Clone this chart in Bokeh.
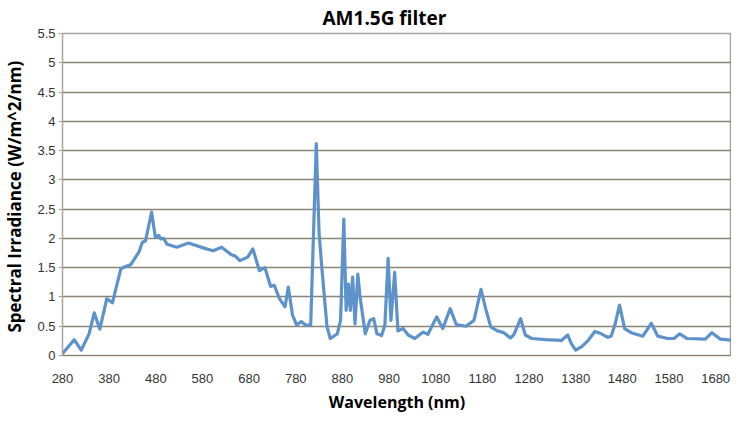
from bokeh.plotting import figure
from bokeh.models import FixedTicker, Range1d
from bokeh.embed import file_html
from bokeh.resources import INLINE

wavelength = [280, 283, 305, 320, 337, 348, 360, 375, 387, 405, 415, 426, 444, 451, 458, 471, 479,
              486, 491, 497, 504, 525, 550, 585, 603, 621, 642, 650, 660, 677, 688, 702, 714, 726,
              734, 745, 757, 764, 773, 782, 792, 801, 812, 824, 830, 837, 847, 854, 869, 876, 883,
              888, 893, 897, 902, 907, 913, 918, 929, 939, 947, 954, 964, 971, 978, 984, 992, 999,
              1010, 1021, 1035, 1053, 1063, 1082, 1095, 1111, 1124, 1145, 1162, 1177, 1187, 1198,
              1212, 1226, 1240, 1247, 1262, 1272, 1286, 1315, 1350, 1363, 1371, 1380, 1393, 1407,
              1421, 1435, 1449, 1456, 1464, 1474, 1485, 1499, 1524, 1542, 1556, 1577, 1591, 1603,
              1619, 1658, 1672, 1690, 1714]
irradiance = [0.03, 0.06, 0.27, 0.09, 0.37, 0.73, 0.45, 0.97, 0.90, 1.48, 1.52, 1.55, 1.77, 1.93, 1.96,
              2.45, 2.02, 2.05, 1.99, 2.00, 1.90, 1.85, 1.92, 1.83, 1.79, 1.85, 1.72, 1.70, 1.62, 1.68,
              1.82, 1.45, 1.50, 1.18, 1.20, 0.97, 0.83, 1.17, 0.69, 0.52, 0.58, 0.52, 0.52, 3.62, 2.08,
              1.40, 0.49, 0.29, 0.37, 0.60, 2.33, 0.77, 1.22, 0.77, 1.34, 0.54, 1.39, 0.99, 0.37, 0.60,
              0.63, 0.37, 0.34, 0.52, 1.66, 0.60, 1.42, 0.42, 0.46, 0.35, 0.29, 0.40, 0.36, 0.66, 0.46,
              0.80, 0.53, 0.50, 0.60, 1.13, 0.80, 0.49, 0.42, 0.39, 0.30, 0.35, 0.63, 0.35, 0.29, 0.27,
              0.26, 0.35, 0.20, 0.09, 0.15, 0.26, 0.41, 0.37, 0.31, 0.33, 0.52, 0.86, 0.46, 0.39, 0.33,
              0.55, 0.33, 0.29, 0.29, 0.37, 0.29, 0.28, 0.39, 0.28, 0.26]

x_ticks = [280, 380, 480, 580, 680, 780, 880, 980, 1080, 1180, 1280, 1380, 1480, 1580, 1680]
y_ticks = [0, 0.5, 1, 1.5, 2, 2.5, 3, 3.5, 4, 4.5, 5, 5.5]
y_tick_labels = ["0", "0.5", "1", "1.5", "2", "2.5", "3", "3.5", "4", "4.5", "5", "5.5"]

TICK_FONT = "Liberation Sans"
BOLD_FONT = "Open Sans"

p = figure(frame_width=669, frame_height=322, output_backend="svg", toolbar_location=None,
           x_range=Range1d(280, 1714), y_range=Range1d(0, 5.5),
           title="AM1.5G filter", min_border_left=0, min_border_right=0,
           min_border_top=0, min_border_bottom=0)

p.line(wavelength, irradiance, line_color="#5d93ca", line_width=3.2, line_join="round")

p.title.align = "left"
p.title.offset = 260
p.title.text_font = BOLD_FONT
p.title.text_font_size = "19px"
p.title.text_font_style = "bold"
p.title.text_color = "#000000"
p.title.standoff = 5

p.xaxis.ticker = FixedTicker(ticks=x_ticks)
p.yaxis.ticker = FixedTicker(ticks=y_ticks)
p.yaxis.major_label_overrides = {t: l for t, l in zip(y_ticks, y_tick_labels)}

for ax in (p.xaxis[0], p.yaxis[0]):
    ax.major_label_text_font = TICK_FONT
    ax.major_label_text_font_size = "13px"
    ax.major_label_text_color = "#333333"
    ax.axis_label_text_font = BOLD_FONT
    ax.axis_label_text_font_style = "bold"
    ax.axis_label_text_color = "#000000"
    ax.minor_tick_line_color = None

p.xaxis.axis_label = "Wavelength (nm)"
p.yaxis.axis_label = "Spectral Irradiance  (W/m^2/nm)"
p.xaxis.axis_label_text_font_size = "16px"
p.yaxis.axis_label_text_font_size = "17px"
p.xaxis.major_tick_line_color = None
p.xaxis.major_tick_out = 0
p.xaxis.major_tick_in = 0
p.xaxis.axis_line_color = "#8c8574"
p.xaxis.major_label_standoff = 18
p.xaxis.axis_label_standoff = 5
p.yaxis.axis_line_color = "#a8a49c"
p.yaxis.major_tick_line_color = "#a8a49c"
p.yaxis.major_tick_out = 4
p.yaxis.major_tick_in = 0
p.yaxis.major_label_standoff = 3
p.yaxis.axis_label_standoff = 8

p.xgrid.grid_line_color = None
p.ygrid.grid_line_color = "#8c8574"
p.ygrid.grid_line_width = 1.5
p.outline_line_color = "#a8a49c"
p.outline_line_width = 1.5
p.background_fill_color = "white"
p.border_fill_color = "white"

open("out.html", "w").write(file_html(p, INLINE))
